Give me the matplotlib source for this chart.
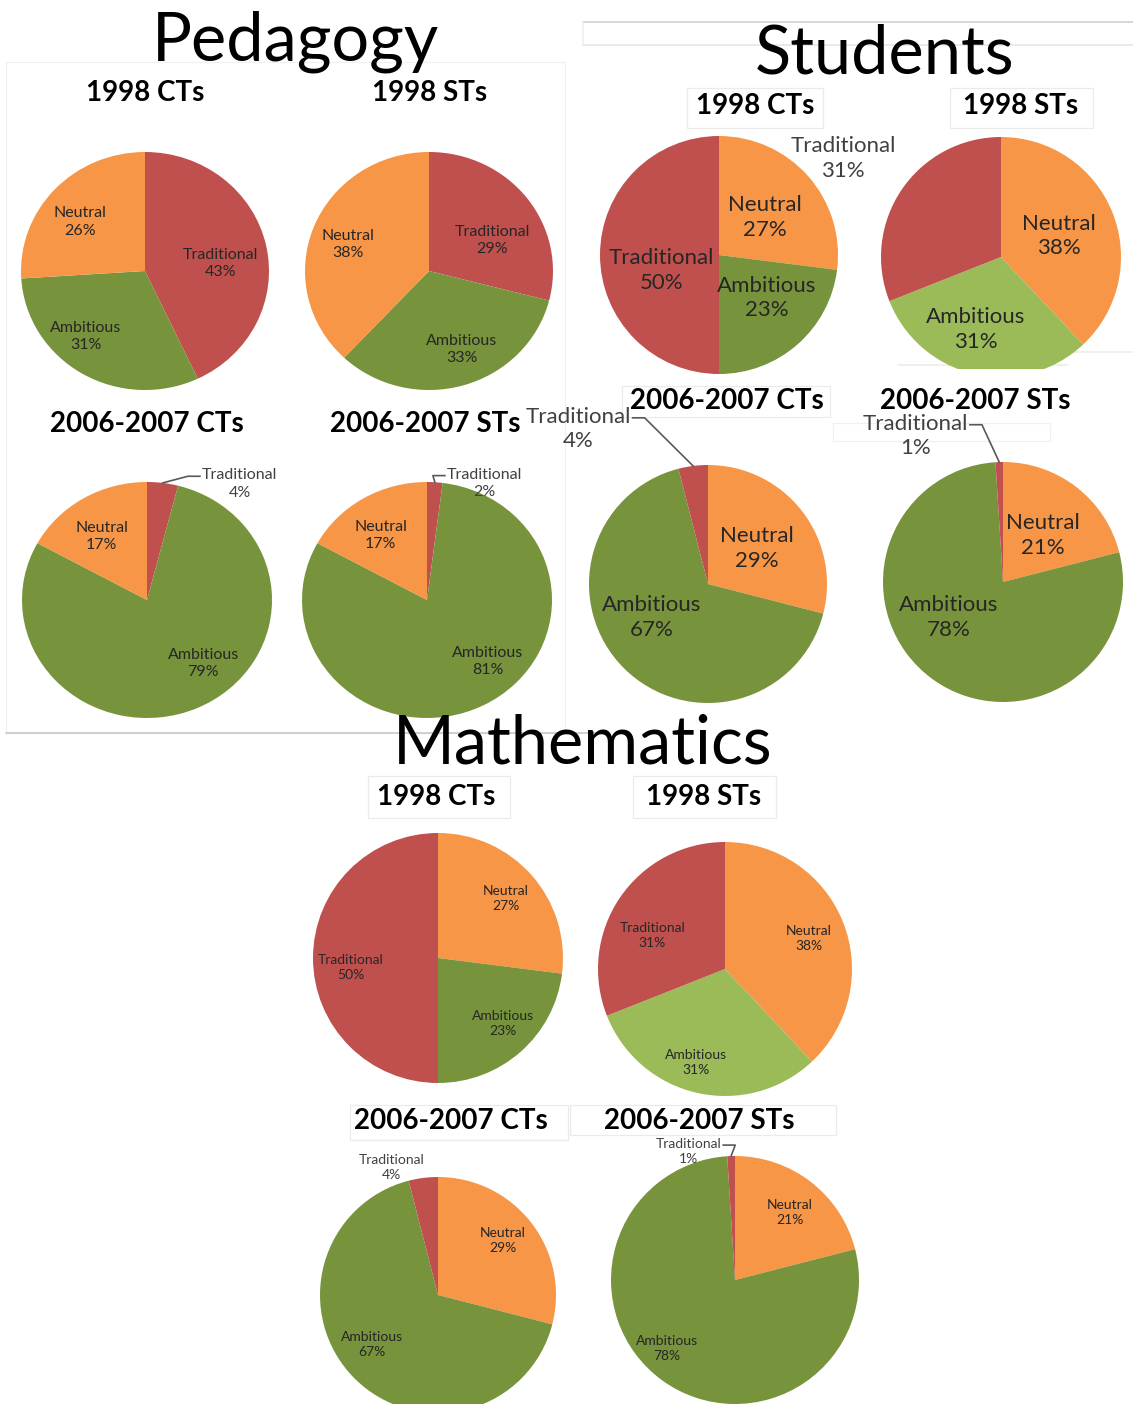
import matplotlib
matplotlib.use("Agg")
import matplotlib.pyplot as plt
from matplotlib.lines import Line2D
from matplotlib.patches import Rectangle
import numpy as np

plt.rcParams['font.family'] = ['Lato', 'DejaVu Sans']

# canvas size in pixels (dpi 100)
W, H = 1133, 1404

# ---- data ----
ped_categories = ["Traditional", "Ambitious", "Neutral"]
stu_categories = ["Neutral", "Ambitious", "Traditional"]

ped_1998_cts = [43, 31, 26]
ped_1998_sts = [29, 33, 38]
ped_0607_cts = [4, 79, 17]
ped_0607_sts = [2, 81, 17]

stu_1998_cts = [27, 23, 50]
stu_1998_sts = [38, 31, 31]
stu_0607_cts = [29, 67, 4]
stu_0607_sts = [21, 78, 1]

math_1998_cts = [27, 23, 50]
math_1998_sts = [38, 31, 31]
math_0607_cts = [29, 67, 4]
math_0607_sts = [21, 78, 1]

COLORS = {"Traditional": "#C0504D", "Neutral": "#F79646", "Ambitious": "#77933C"}
LIGHT_GREEN = "#9BBB59"
TEXT = "#262626"

# ---- layout: centre / radii of each pie in px, title position, label font size,
# label placement as (radius fraction, angle clockwise from 12 o'clock, leader?)
charts = [
    # Pedagogy (slightly squashed in the original slide)
    dict(vals=ped_1998_cts, cats=ped_categories, title="1998 CTs", c=(145, 271), r=124, ry=119,
         t=(145, 93), fs=11.5, lab=[(0.61, 84, False), (0.73, 221, False), (0.67, 308, False)]),
    dict(vals=ped_1998_sts, cats=ped_categories, title="1998 STs", c=(429, 271), r=124, ry=119,
         t=(430, 93), fs=11.5, lab=[(0.57, 63, False), (0.71, 158, False), (0.69, 289, False)]),
    dict(vals=ped_0607_cts, cats=ped_categories, title="2006-2007 CTs", c=(147, 600), r=125, ry=118,
         t=(147, 424), fs=11.5, lab=[(1.23, 37, True), (0.70, 140, False), (0.65, 326, False)]),
    dict(vals=ped_0607_sts, cats=ped_categories, title="2006-2007 STs", c=(427, 600), r=125, ry=118,
         t=(425, 424), fs=11.5, lab=[(1.09, 25, True), (0.71, 137, False), (0.66, 326, False)]),
    # Students
    dict(vals=stu_1998_cts, cats=stu_categories, title="1998 CTs", c=(719, 255), r=119,
         t=(755, 106), fs=16, lab=[(0.5, 51, False), (0.54, 132, False), (0.5, 255, False)]),
    dict(vals=stu_1998_sts, cats=stu_categories, title="1998 STs", c=(1001, 257), r=120,
         t=(1021, 106), fs=16, light=True,
         lab=[(0.51, 70, False), (0.64, 199, False), (1.55, 302, False)]),
    dict(vals=stu_0607_cts, cats=stu_categories, title="2006-2007 CTs", c=(708, 584), r=119,
         t=(727, 401), fs=16, lab=[(0.51, 54, False), (0.55, 239, False), (1.7, 320, True)]),
    dict(vals=stu_0607_sts, cats=stu_categories, title="2006-2007 STs", c=(1003, 582), r=120,
         t=(975, 401), fs=16, lab=[(0.51, 41, False), (0.54, 237, False), (1.42, 329, True)]),
    # Mathematics
    dict(vals=math_1998_cts, cats=stu_categories, title="1998 CTs", c=(438, 958), r=125,
         t=(436, 797), fs=10, lab=[(0.72, 49, False), (0.74, 135, False), (0.70, 264, False)]),
    dict(vals=math_1998_sts, cats=stu_categories, title="1998 STs", c=(725, 969), r=127,
         t=(704, 797), fs=10, light=True,
         lab=[(0.70, 70, False), (0.77, 197, False), (0.63, 295, False)]),
    dict(vals=math_0607_cts, cats=stu_categories, title="2006-2007 CTs", c=(438, 1295), r=118,
         t=(451, 1121), fs=10, lab=[(0.72, 50, False), (0.70, 233, False), (1.15, 340, False)]),
    dict(vals=math_0607_sts, cats=stu_categories, title="2006-2007 STs", c=(735, 1280), r=124,
         t=(699, 1121), fs=10, lab=[(0.70, 39, False), (0.78, 225, False), (1.1, 340, True)]),
]

headings = [("Pedagogy", (296, 42)), ("Students", (885, 55)), ("Mathematics", (583, 745))]

# faint frames left over from the original slide collage (x0, y0, x1, y1, colour)
frames = [
    (6, 62, 565, 733, "#f0f0f0"),
    (687, 88, 823, 128, "#ebebeb"), (950, 88, 1093, 128, "#ebebeb"),
    (622, 386, 830, 417, "#ebebeb"), (833, 423, 1050, 441, "#f0f0f0"),
    (368, 776, 510, 818, "#ebebeb"), (633, 776, 776, 818, "#ebebeb"),
    (350, 1105, 568, 1140, "#ebebeb"), (570, 1105, 836, 1135, "#ebebeb"),
]
rules = [
    ((6, 600), (733, 733), "#c4c4c4"),
    ((583, 1133), (22, 22), "#cccccc"),
    ((583, 1133), (45, 45), "#e4e4e4"),
    ((583, 583), (22, 45), "#ededed"),
    ((898, 1067), (365, 365), "#ebebeb"),
    ((1070, 1133), (352, 352), "#ebebeb"),
]


def fx(x):
    return x / W


def fy(y):
    return 1 - y / H


fig = plt.figure(figsize=(W / 100, H / 100), dpi=100)
fig.patch.set_facecolor('white')

for x0, y0, x1, y1, col in frames:
    fig.add_artist(Rectangle((fx(x0), fy(y1)), fx(x1) - fx(x0), fy(y0) - fy(y1),
                             transform=fig.transFigure, facecolor='none',
                             edgecolor=col, linewidth=0.9, zorder=-1))
for xs, ys, col in rules:
    fig.add_artist(Line2D([fx(v) for v in xs], [fy(v) for v in ys],
                          transform=fig.transFigure, color=col, linewidth=1.1, zorder=-1))

for text, (x, y) in headings:
    fig.text(fx(x), fy(y), text, ha='center', va='center', fontsize=48, color='black')

leaders = []
for ch in charts:
    cx, cy = ch['c']
    rx = ch['r']
    ry = ch.get('ry', rx)
    ax = fig.add_axes([fx(cx - rx), fy(cy + ry), 2 * rx / W, 2 * ry / H])
    cols = [COLORS[c] for c in ch['cats']]
    if ch.get('light'):
        cols = [LIGHT_GREEN if c == "Ambitious" else COLORS[c] for c in ch['cats']]
    wedges, _ = ax.pie(ch['vals'], colors=cols, startangle=90, counterclock=False,
                       radius=1, wedgeprops=dict(linewidth=0))
    ax.set_aspect('auto')
    ax.set_xlim(-1, 1)
    ax.set_ylim(-1, 1)
    ax.axis('off')

    fig.text(fx(ch['t'][0]), fy(ch['t'][1]), ch['title'], ha='center', va='center',
             fontsize=20, fontweight='bold', color='black')

    for w, cat, v, (rr, ang, lead) in zip(wedges, ch['cats'], ch['vals'], ch['lab']):
        a = np.radians(ang)
        outside = rr > 1
        t = ax.text(rr * np.sin(a), rr * np.cos(a), f"{cat}\n{v}%", ha='center', va='center',
                    multialignment='center', fontsize=ch['fs'], linespacing=1.3,
                    color='#404040' if outside else TEXT, zorder=5)
        if lead:
            mid = np.radians((w.theta1 + w.theta2) / 2)
            leaders.append((ax, t, (np.cos(mid), np.sin(mid))))

# leader lines from the small slices to their outside labels
renderer = fig.canvas.get_renderer()
inv = fig.transFigure.inverted()
for ax, t, rim in leaders:
    bb = t.get_window_extent(renderer)
    px_rim = ax.transData.transform(rim)
    ly = bb.y1 - bb.height / 4
    if px_rim[0] < bb.x0:
        edge = (bb.x0 - 2, ly)
        knee = (bb.x0 - 14, ly)
    else:
        edge = (bb.x1 + 2, ly)
        knee = (bb.x1 + 14, ly)
    pts = inv.transform([edge, knee, px_rim])
    fig.add_artist(Line2D(pts[:, 0], pts[:, 1], transform=fig.transFigure,
                          color='#595959', linewidth=1.2, zorder=6))

# white block that clips the bottom of the students 1998 STs pie
fig.add_artist(Rectangle((fx(900), fy(382)), fx(1080) - fx(900), fy(369) - fy(382),
                         transform=fig.transFigure, facecolor='white',
                         edgecolor='none', zorder=3))

fig.savefig('out.png', dpi=100, facecolor='white')
